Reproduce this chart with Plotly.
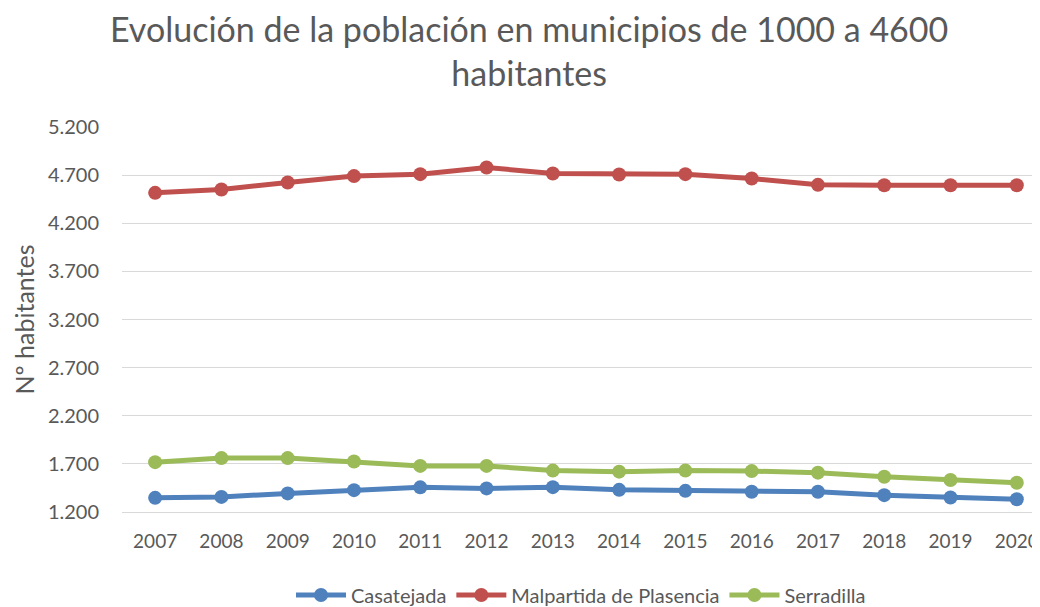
import plotly.graph_objects as go

years = list(range(2007, 2021))
casatejada = [1347, 1357, 1393, 1427, 1456, 1445, 1458, 1430, 1420, 1410, 1410, 1375, 1351, 1333]
malpartida = [4516, 4551, 4624, 4690, 4710, 4780, 4717, 4707, 4710, 4665, 4599, 4595, 4595, 4595]
serradilla = [1718, 1760, 1760, 1724, 1679, 1679, 1630, 1619, 1630, 1625, 1609, 1567, 1532, 1504]

FONT = "Lato"
GREY = "#595959"

series = [("Casatejada", casatejada, "#4F81BD"),
          ("Malpartida de Plasencia", malpartida, "#C0504D"),
          ("Serradilla", serradilla, "#9BBB59")]

fig = go.Figure()
for name, vals, color in series:
    fig.add_trace(go.Scatter(x=years, y=vals, name=name, mode="lines+markers",
                             line=dict(color=color, width=5),
                             marker=dict(color=color, size=14),
                             cliponaxis=False))

# page body has an 8px margin, so the figure is 8px smaller than the window
fig.update_layout(
    width=1032, height=599,
    margin=dict(l=114, r=0, t=119, b=95),
    paper_bgcolor="white", plot_bgcolor="white",
    separators=",.",
    font=dict(family=FONT, color=GREY, size=20),
    title=dict(text="Evolución de la población en municipios de 1000 a 4600<br>habitantes",
               x=0.505, xanchor="center", y=0.944, yanchor="top",
               font=dict(family=FONT, size=34, color=GREY)),
    legend=dict(orientation="h", x=0.5, xanchor="center",
                yref="container", y=0.02, yanchor="middle",
                font=dict(size=20, color=GREY), itemwidth=50),
    showlegend=True,
)
fig.update_xaxes(range=[2006.5, 2020.35], tickmode="array", tickvals=years,
                 ticktext=[str(y) for y in years], showgrid=False,
                 tickfont=dict(size=19),
                 showline=True, linecolor="#D9D9D9", linewidth=1,
                 ticks="", ticklabelstandoff=12, ticklabeloverflow="allow",
                 zeroline=False, automargin=False)
fig.update_yaxes(range=[1200, 5200], dtick=500, tick0=1200, tickformat=",d",
                 showgrid=True, gridcolor="#D9D9D9", gridwidth=1,
                 zeroline=False, showline=False, ticklabelstandoff=22,
                 automargin=False,
                 title=dict(text="Nº habitantes", font=dict(size=25, color=GREY), standoff=6))

fig.write_html("out.html")
